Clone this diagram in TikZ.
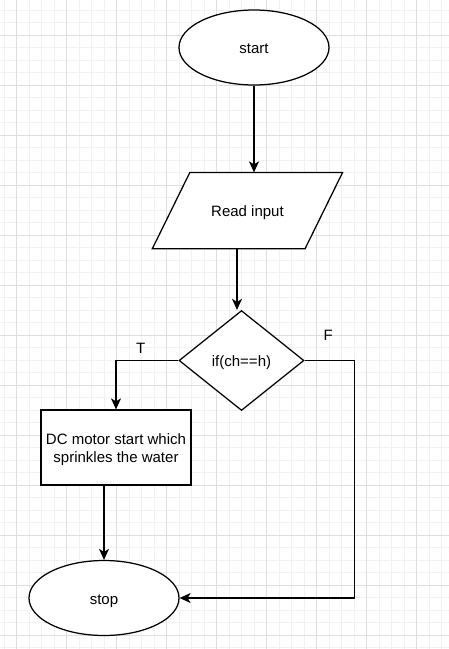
\documentclass[tikz,border=0pt]{standalone}
\usepackage{fontspec}
\setmainfont{Liberation Sans}
\usetikzlibrary{shapes.geometric,arrows.meta}
\definecolor{gminor}{HTML}{F1F1F1}
\definecolor{gmajor}{HTML}{DEDEDE}
\tikzset{
  shp/.style={draw=black, line width=1.25pt, fill=white, inner sep=0pt, align=center, font=\fontsize{15}{18}\selectfont},
  one/.style={text height=14pt, text depth=2pt},
  arr/.style={draw=black, line width=1.25pt, -{Stealth[length=11pt,width=10pt,inset=3pt]}},
  lbl/.style={font=\fontsize{15}{18}\selectfont, inner sep=0pt}
}
\begin{document}
\begin{tikzpicture}[x=1pt,y=-1pt]
\useasboundingbox (0,0) rectangle (449,649);
\fill[white] (0,0) rectangle (449,649);
% grid
\foreach \i in {0,...,36} {
  \draw[gminor, line width=0.8pt] ({4.17+12.5*\i},0) -- ({4.17+12.5*\i},649);
}
\foreach \i in {0,...,52} {
  \draw[gminor, line width=0.8pt] (0,{10+12.5*\i}) -- (449,{10+12.5*\i});
}
\foreach \i in {0,...,8} {
  \draw[gmajor, line width=0.8pt] ({16.67+50*\i},0) -- ({16.67+50*\i},649);
}
\foreach \i in {0,...,12} {
  \draw[gmajor, line width=0.8pt] (0,{35+50*\i}) -- (449,{35+50*\i});
}
% nodes
\node[shp, one, ellipse, minimum width=150pt, minimum height=75pt] (start) at (254,47.5) {start};
\node[shp, one, draw=none, fill=none, rectangle, minimum width=189pt, minimum height=75pt] (read) at (247.5,210.5) {};
\filldraw[draw=black, fill=white, line width=1.25pt, line join=miter]
  ([xshift=37.5pt]read.north west) -- (read.north east) -- ([xshift=-37.5pt]read.south east) -- (read.south west) -- cycle;
\node[shp, one, draw=none, fill=none] (readtxt) at (read.center) {Read input};
\node[shp, one, diamond, minimum width=125pt, minimum height=100pt] (dec) at (241.5,360.5) {if(ch==h)};
\node[shp, rectangle, minimum width=150pt, minimum height=75pt, text height=31.4pt, text depth=1pt] (motor) at (116,447.5) {DC motor start which\\sprinkles the water};
\node[shp, one, ellipse, minimum width=150pt, minimum height=75pt] (stop) at (104,598) {stop};
\node[lbl] (tl) at (140.7,348.5) {T};
\node[lbl] (fl) at (328.3,335) {F};
\coordinate (r1) at (237,248);
% connectors
\draw[arr] (start.south) -- (start.south |- read.north);
\draw[arr] (r1) -- (r1 |- dec.north);
\draw[arr] (dec.west) -| (motor.north);
\draw[arr] (stop.north |- motor.south) -- (stop.north);
\draw[arr] (dec.east) -- ++(50,0) |- (stop.east);
\end{tikzpicture}
\end{document}
